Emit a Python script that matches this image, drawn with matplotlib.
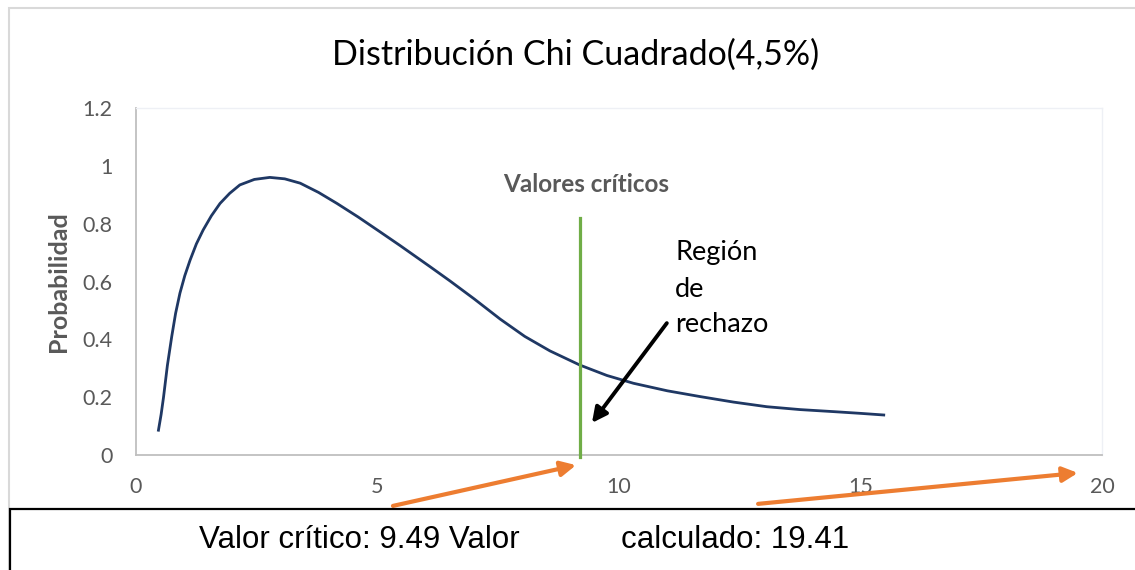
import matplotlib
matplotlib.use("Agg")
import matplotlib.pyplot as plt
from matplotlib.patches import Rectangle

# curve (x, probability)
chi_x = [0.46, 0.52, 0.57, 0.65, 0.74, 0.82, 0.91, 1.01, 1.12, 1.25, 1.39,
         1.56, 1.74, 1.94, 2.15, 2.45, 2.77, 3.08, 3.40, 3.78, 4.16, 4.60,
         5.05, 5.47, 6.09, 6.50, 7.00, 7.54, 8.05, 8.57, 9.19, 9.75, 10.30,
         11.00, 11.68, 12.37, 13.06, 13.75, 14.44, 15.00, 15.51]
chi_y = [0.081, 0.14, 0.20, 0.31, 0.41, 0.49, 0.56, 0.62, 0.674, 0.73, 0.778,
         0.827, 0.87, 0.905, 0.934, 0.953, 0.960, 0.955, 0.940, 0.908, 0.870,
         0.823, 0.772, 0.724, 0.651, 0.602, 0.540, 0.470, 0.410, 0.360, 0.311,
         0.275, 0.248, 0.222, 0.202, 0.183, 0.167, 0.157, 0.150, 0.144, 0.138]

crit_x = 9.19
crit_top = 0.818

x_ticks = [0, 5, 10, 15, 20]
y_ticks = [0, 0.2, 0.4, 0.6, 0.8, 1.0, 1.2]
y_labels = ["0", "0.2", "0.4", "0.6", "0.8", "1", "1.2"]

# arrows: (tail, head) in data units
orange_arrows = [((5.32, -0.176), (9.11, -0.035)),
                 ((12.88, -0.169), (19.50, -0.062))]
black_arrow = ((10.99, 0.456), (9.44, 0.111))

region_lines = ["Región", "de", "rechazo"]
region_y = [0.674, 0.546, 0.425]

title = "Distribución Chi Cuadrado(4,5%)"
footer_left = "Valor crítico: 9.49 Valor"
footer_right = "calculado: 19.41"

gray = "#595959"
navy = "#1F3864"
green = "#70AD47"
orange = "#ED7D31"

plt.rcParams["font.family"] = ["Lato", "DejaVu Sans"]

fig = plt.figure(figsize=(11.35, 5.70), dpi=100)
fig.patch.set_facecolor("white")

# outer chart frame
fig.add_artist(Rectangle((9 / 1135, -0.1), 1.2, 1 - 8 / 570 + 0.1,
                         transform=fig.transFigure, fill=False,
                         edgecolor="#D9D9D9", lw=1.5, zorder=0))

ax = fig.add_axes([136 / 1135, 1 - 455 / 570, 966 / 1135, 347 / 570])
ax.plot(chi_x, chi_y, color=navy, lw=2.0, solid_joinstyle="round",
        solid_capstyle="butt", zorder=3)
ax.plot([crit_x, crit_x], [-0.007, crit_top], color=green, lw=2.3,
        clip_on=False, zorder=4)

ax.set_xlim(0, 20)
ax.set_ylim(0, 1.2)
ax.set_xticks(x_ticks)
ax.set_yticks(y_ticks)
ax.set_yticklabels(y_labels)
ax.tick_params(axis="both", length=0, labelsize=15.5, labelcolor=gray)
ax.tick_params(axis="y", pad=17)
ax.tick_params(axis="x", pad=16)
for side in ["left", "bottom"]:
    ax.spines[side].set_color("#BFBFBF")
    ax.spines[side].set_linewidth(1.3)
for side in ["top", "right"]:
    ax.spines[side].set_color("#EEF0F5")
    ax.spines[side].set_linewidth(1.0)

ax.set_ylabel("Probabilidad", fontsize=18, fontweight="bold", color=gray)
ax.yaxis.set_label_coords(-66 / 966, 0.5)

fig.text(0.507, 1 - 55 / 570, title, fontsize=24.5, ha="center", va="center",
         color="black")

ax.text(9.32, 0.934, "Valores críticos", fontsize=17.5, fontweight="bold",
        color=gray, ha="center", va="center")
for line, yy in zip(region_lines, region_y):
    ax.text(11.16, yy, line, fontsize=19.5, color="black", ha="left",
            va="baseline")

(tx, ty), (hx, hy) = black_arrow
ax.annotate("", xy=(hx, hy), xytext=(tx, ty),
            arrowprops=dict(arrowstyle="-|>,head_length=0.9,head_width=0.45",
                            color="black", lw=2.8, shrinkA=0, shrinkB=0))

for (tx, ty), (hx, hy) in orange_arrows:
    ax.annotate("", xy=(hx, hy), xytext=(tx, ty), annotation_clip=False,
                arrowprops=dict(arrowstyle="-|>,head_length=0.9,head_width=0.45",
                                color=orange, lw=3, shrinkA=0, shrinkB=0))

# footer box
fig.add_artist(Rectangle((10 / 1135, -0.1), 1.2, 0.1 + 1 - 509 / 570,
                         transform=fig.transFigure, facecolor="white",
                         edgecolor="black", lw=1.6, zorder=5))
fig.text(199 / 1135, 1 - 548 / 570, footer_left, fontsize=22.5,
         family=["Liberation Sans", "DejaVu Sans"], ha="left", va="baseline",
         zorder=6)
fig.text(621 / 1135, 1 - 548 / 570, footer_right, fontsize=22.5,
         family=["Liberation Sans", "DejaVu Sans"], ha="left", va="baseline",
         zorder=6)

fig.savefig("out.png", dpi=100)
